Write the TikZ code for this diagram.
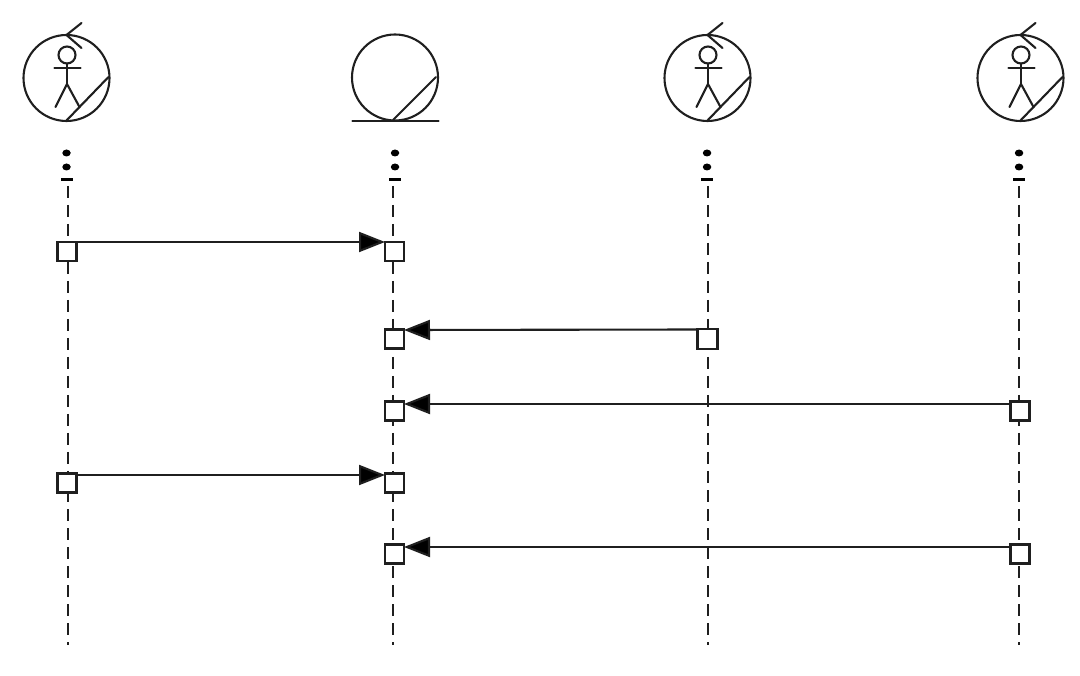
\documentclass[tikz,border=0pt]{standalone}
\usetikzlibrary{arrows.meta,shapes.geometric}
\tikzset{
  ln/.style={line width=2.1pt,draw=black!88,line cap=round},
  life/.style={line width=1.8pt,draw=black!88,dash pattern=on 12pt off 7pt},
  anchorbox/.style={draw=black!88,fill=white,line width=2.1pt,minimum size=19pt,inner sep=0pt,outer sep=0pt},
  msg/.style={line width=2.1pt,draw=black!88,-{Triangle[length=26pt,width=20pt,fill=black]}},
  dotn/.style={ellipse,fill=black,minimum width=8.5pt,minimum height=7pt,inner sep=0pt,outer sep=0pt},
  dashn/.style={rectangle,fill=black,minimum width=12pt,minimum height=3pt,inner sep=0pt,outer sep=0pt},
  endpt/.style={inner sep=0pt,outer sep=0pt}
}
\newcommand{\roleglyph}[2]{%
  \begin{scope}[shift={(#1,#2)}]
    \draw[ln] (0,0) circle (43pt);
    \draw[ln] (42,-1) -- (0,42.5);
    \draw[ln] (0,-43) -- (15,-55);
    \draw[ln] (0,-43) -- (15,-30);
    \draw[ln] (0.5,-23) circle (8.5pt);
    \draw[ln] (0.5,-14.5) -- (0.5,6);
    \draw[ln] (-12,-10) -- (14,-10);
    \draw[ln] (0.5,6) -- (-11,29);
    \draw[ln] (0.5,6) -- (13,29);
  \end{scope}}
\newcommand{\dotstack}[2]{%
  \node[dotn] (#2a) at (#1,153) {};
  \node[dotn] (#2b) at (#1,167) {};
  \node[dashn] (#2c) at (#1,180) {};}
\begin{document}
\begin{tikzpicture}[x=1pt,y=-1pt]
\useasboundingbox (0,0) rectangle (1080,676);
\roleglyph{66.5}{78}
\roleglyph{707.5}{78}
\roleglyph{1020.5}{78}
% entity
\draw[ln] (395,77.5) circle (43pt);
\draw[ln] (352.5,121) -- (438.5,121);
\draw[ln] (436,77) -- (393,120);
\dotstack{66.5}{p}
\dotstack{395}{q}
\dotstack{707}{r}
\dotstack{1019}{s}
\node[endpt] (pe) at (68,645) {};
\node[endpt] (qe) at (393,645) {};
\node[endpt] (re) at (708,645) {};
\node[endpt] (se) at (1019,645) {};
\draw[life] (68,186) -- (pe);
\draw[life] (393,186) -- (qe);
\draw[life] (708,186) -- (re);
\draw[life] (1019,186) -- (se);
\node[anchorbox] (a1) at (67,251.5) {};
\node[anchorbox] (b1) at (394.5,251.5) {};
\node[anchorbox] (b2) at (394.5,339) {};
\node[anchorbox,minimum size=20pt] (c2) at (707.5,339) {};
\node[anchorbox] (b3) at (394.5,411) {};
\node[anchorbox] (d3) at (1020,411) {};
\node[anchorbox] (a4) at (67,483) {};
\node[anchorbox] (b4) at (394.5,483) {};
\node[anchorbox] (b5) at (394.5,554) {};
\node[anchorbox] (d5) at (1020,554) {};
\draw[msg] (a1.north east) -- (b1.north west);
\draw[msg] ([yshift=-0.5pt]c2.north west) -- ([yshift=-0.5pt]b2.north east);
\draw[msg] ([yshift=-2.5pt]d3.north west) -- ([yshift=-2.5pt]b3.north east);
\draw[msg] ([yshift=-1.5pt]a4.north east) -- ([yshift=-1.5pt]b4.north west);
\draw[msg] ([yshift=-2.5pt]d5.north west) -- ([yshift=-2.5pt]b5.north east);
\end{tikzpicture}
\end{document}
